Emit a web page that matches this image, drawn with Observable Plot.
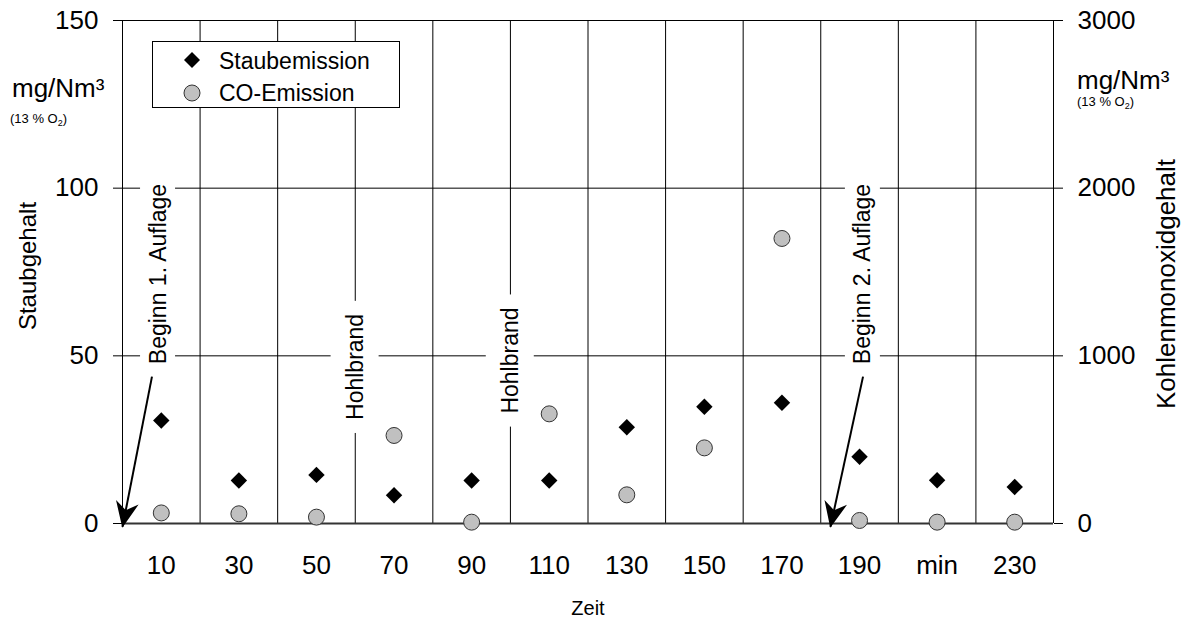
<!DOCTYPE html>
<html>
<head>
<meta charset="utf-8">
<script src="https://cdn.jsdelivr.net/npm/d3@7"></script>
<script src="https://cdn.jsdelivr.net/npm/@observablehq/plot@0.6"></script>
<style>
  html, body { margin: 0; padding: 0; background: #fff; }
  #chart { position: relative; width: 1185px; height: 621px; font-family: "Liberation Sans", Arial, sans-serif; color: #000; }
  .ov { position: absolute; white-space: nowrap; line-height: 1; }
  .rot { position: absolute; white-space: nowrap; line-height: 1; transform: translate(-50%, -50%) rotate(-90deg); }
  #legend { position: absolute; left: 152px; top: 41px; width: 246px; height: 65px; border: 1px solid #000; background: #fff; }
  #legend .item { position: absolute; left: 66px; font-size: 23px; line-height: 1; white-space: nowrap; }
  #legend svg { position: absolute; }
</style>
</head>
<body>
<div id="chart"></div>
<script>
// ---- data ----
const times = [10, 30, 50, 70, 90, 110, 130, 150, 170, 190, 210, 230];
const xTickLabels = ["10", "30", "50", "70", "90", "110", "130", "150", "170", "190", "min", "230"];
const staubemission = [30.7, 12.8, 14.5, 8.4, 12.8, 12.8, 28.7, 34.8, 36.0, 19.9, 12.9, 10.9];
const coEmission = [63, 58, 38, 525, 8, 654, 171, 451, 1700, 18, 8, 8];
const gridTimes = [0, 20, 40, 60, 80, 100, 120, 140, 160, 180, 200, 220, 240];
const staubTicks = [0, 50, 100, 150];
const coTicks = [0, 1000, 2000, 3000];
const coPerStaub = 3000 / 150;
const annotationLabels = ["Beginn 1. Auflage", "Hohlbrand", "Hohlbrand", "Beginn 2. Auflage"];
const annotationX = [9.2, 60, 100, 190.9];
const annotationY = [74.4, 46.7, 48.6, 74.4];
const arrowFromX = [7.6, 190.9];
const arrowFromY = [43.8, 43.8];
const arrowToX = [0, 182.5];
const arrowToY = [-1, -1];

const rows = times.map((t, i) => ({t, staub: staubemission[i], co: coEmission[i]}));
const annotations = annotationLabels.map((label, i) => ({label, x: annotationX[i], y: annotationY[i]}));
const arrows = arrowFromX.map((x1, i) => ({x1, y1: arrowFromY[i], x2: arrowToX[i], y2: arrowToY[i]}));

const chart = Plot.plot({
  width: 1185,
  height: 621,
  marginTop: 20,
  marginBottom: 98,
  marginLeft: 122,
  marginRight: 132,
  style: {fontFamily: '"Liberation Sans", Arial, sans-serif', fontSize: "26px", background: "#fff", color: "#000", overflow: "visible"},
  x: {domain: [0, 240]},
  y: {domain: [0, 150]},
  marks: [
    Plot.ruleX(gridTimes, {stroke: "#000", strokeWidth: 1}),
    Plot.ruleY([50, 100, 150], {stroke: "#000", strokeWidth: 1}),
    Plot.ruleY([0], {stroke: "#333", strokeWidth: 2}),
    Plot.axisY(staubTicks, {anchor: "left", tickSize: 9, tickPadding: 15, label: null, fontSize: 26, tickFormat: d => String(d)}),
    Plot.axisY(coTicks.map(v => v / coPerStaub), {anchor: "right", tickSize: 9, tickPadding: 15, label: null, fontSize: 26, tickFormat: d => String(Math.round(d * coPerStaub))}),
    Plot.axisX(times, {anchor: "bottom", tickSize: 0, tickPadding: 32, label: null, fontSize: 26, tickFormat: d => xTickLabels[times.indexOf(d)]}),
    Plot.text(annotations, {x: "x", y: "y", text: "label", rotate: -90, fontSize: 23, fill: "#000"}),
    Plot.link(arrows, {x1: "x1", y1: "y1", x2: "x2", y2: "y2", stroke: "#000", strokeWidth: 2}),
    Plot.dot(rows, {x: "t", y: d => d.co / coPerStaub, r: 8, fill: "#c0c0c0", stroke: "#333", strokeWidth: 1}),
    Plot.dot(rows, {x: "t", y: "staub", symbol: "diamond2", r: 7.4, fill: "#000", stroke: "none"})
  ]
});

const container = document.getElementById("chart");
container.appendChild(chart);
const svg = container.querySelector("svg");

// white boxes behind annotation texts
const annotTexts = [...svg.querySelectorAll("text")].filter(t => annotationLabels.includes(t.textContent) && !t.closest('[aria-label$="axis"]') );
annotTexts.forEach(t => {
  const b = t.getBBox();
  const label = t.textContent;
  const padL = 13, padA = label === "Hohlbrand" ? 11 : 4.5;
  const r = document.createElementNS("http://www.w3.org/2000/svg", "rect");
  r.setAttribute("x", b.x - padL);
  r.setAttribute("y", b.y - padA);
  r.setAttribute("width", b.width + 2 * padL);
  r.setAttribute("height", b.height + 2 * padA);
  r.setAttribute("fill", "#fff");
  r.setAttribute("stroke", "none");
  const tr = t.getAttribute("transform");
  if (tr) r.setAttribute("transform", tr);
  t.parentNode.insertBefore(r, t);
});

// filled stealth arrowheads
const defs = d3.select(svg).insert("defs", ":first-child");
defs.append("marker")
  .attr("id", "stealth")
  .attr("markerUnits", "userSpaceOnUse")
  .attr("viewBox", "-30 -15 32 30")
  .attr("markerWidth", 32)
  .attr("markerHeight", 30)
  .attr("refX", 0)
  .attr("refY", 0)
  .attr("orient", "auto")
  .attr("overflow", "visible")
  .append("path")
  .attr("d", "M1,0 L-25,-11.5 L-17,0 L-25,11.5 Z")
  .attr("fill", "#000");
svg.querySelectorAll('g[aria-label="link"] path').forEach(p => p.setAttribute("marker-end", "url(#stealth)"));

// extra texts
function addDiv(cls, html, styles) {
  const d = document.createElement("div");
  d.className = cls;
  d.innerHTML = html;
  Object.assign(d.style, styles);
  container.appendChild(d);
  return d;
}
addDiv("ov", "mg/Nm³", {left: "12px", top: "74.5px", fontSize: "26px"});
addDiv("ov", "mg/Nm³", {left: "1077px", top: "66.5px", fontSize: "26px"});
const sub = '(13 % O<span style="font-size:9px;position:relative;top:3px">2</span>)';
addDiv("ov", sub, {left: "10px", top: "111.5px", fontSize: "13px"});
addDiv("ov", sub, {left: "1077px", top: "95px", fontSize: "13px"});
addDiv("rot", "Staubgehalt", {left: "28px", top: "266px", fontSize: "24px"});
addDiv("rot", "Kohlenmonoxidgehalt", {left: "1166px", top: "284px", fontSize: "26px"});
addDiv("ov", "Zeit", {left: "588px", top: "598px", fontSize: "20px", transform: "translateX(-50%)"});

// legend
const legend = document.createElement("div");
legend.id = "legend";
legend.innerHTML = `
  <svg width="18" height="18" style="left:29.5px;top:8.5px"><polygon points="9,1 17,9 9,17 1,9" fill="#000"/></svg>
  <div class="item" style="top:8px">Staubemission</div>
  <svg width="18" height="18" style="left:29.5px;top:41.5px"><circle cx="9" cy="9" r="8" fill="#c0c0c0" stroke="#333" stroke-width="1"/></svg>
  <div class="item" style="top:40px">CO-Emission</div>`;
container.appendChild(legend);
</script>
</body>
</html>
